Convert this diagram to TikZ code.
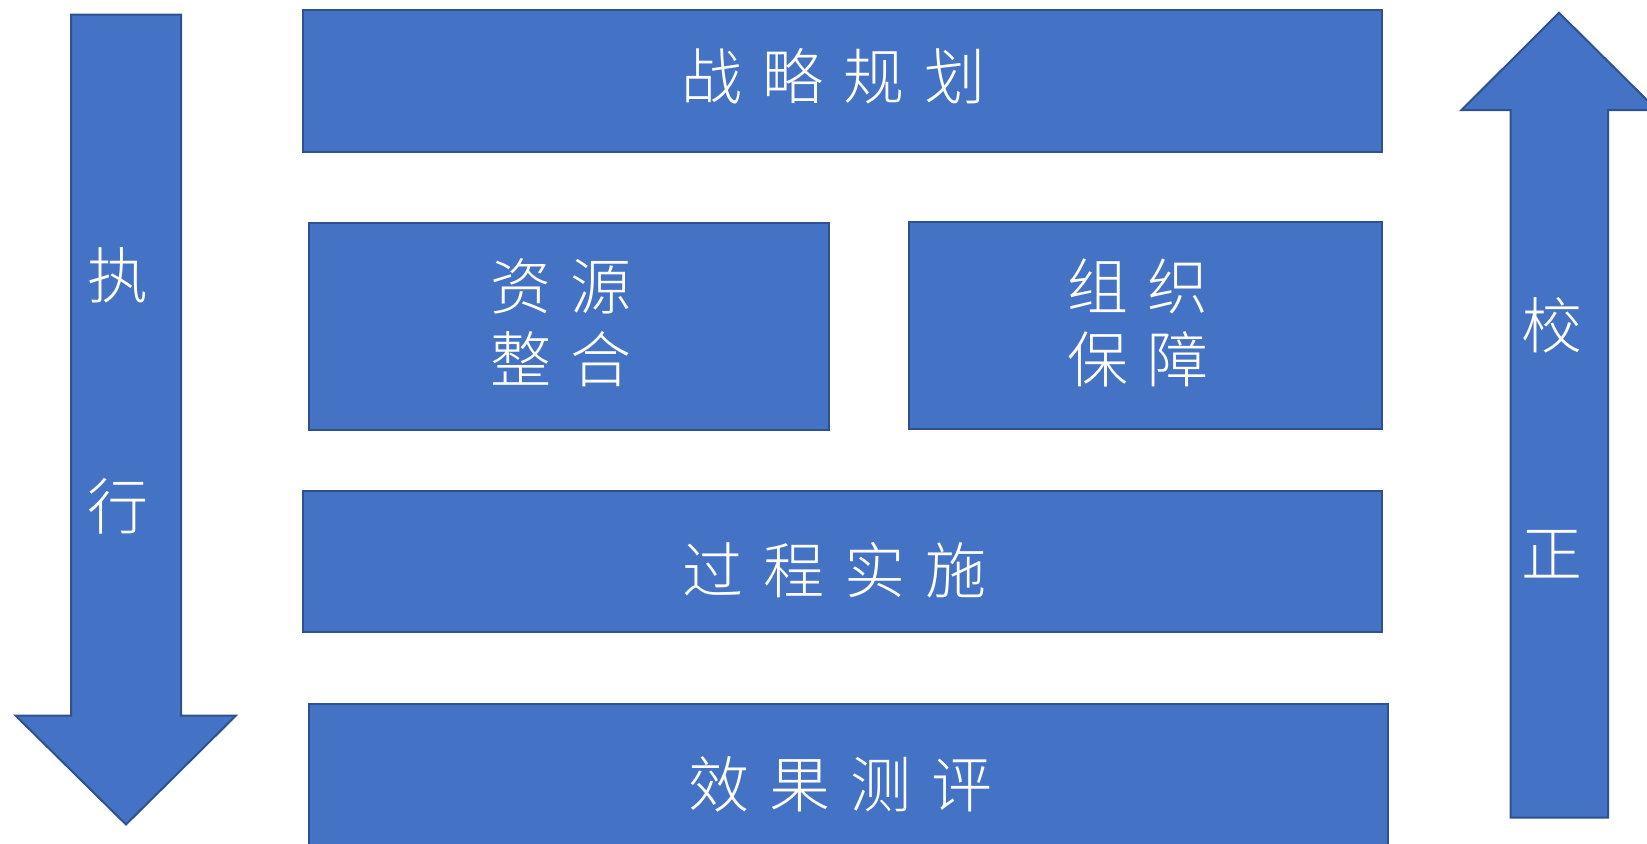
\documentclass[tikz,border=0pt]{standalone}
\usepackage{fontspec}
\newfontfamily\cjk{Noto Sans CJK SC Light}
\definecolor{boxfill}{HTML}{4472C4}
\definecolor{boxline}{HTML}{2F528F}
\begin{document}
\begin{tikzpicture}[x=0.5pt,y=-0.5pt,
  shapebox/.style={fill=boxfill,draw=boxline,line width=1pt,line join=miter},
  lbl/.style={text=white,inner sep=0pt,align=center,font=\cjk\fontsize{30.5}{36.75}\selectfont}]
\useasboundingbox (0,0) rectangle (1647,843);
% left arrow (down)
\path[shapebox] (71,14.5) -- (181,14.5) -- (181,715.5) -- (236,715.5) -- (126,824.5) -- (15.5,715.5) -- (71,715.5) -- cycle;
% right arrow (up)
\path[shapebox] (1510.5,817.5) -- (1510.5,110) -- (1461.5,110) -- (1559,12.8) -- (1657,110) -- (1608,110) -- (1608,817.5) -- cycle;
% boxes
\node[shapebox,inner sep=0pt,anchor=north west,minimum width=539.5pt,minimum height=71pt] (plan) at (302,8.5) {};
\node[shapebox,inner sep=0pt,anchor=north west,minimum width=260pt,minimum height=103.5pt] (res) at (308,221.5) {};
\node[shapebox,inner sep=0pt,anchor=north west,minimum width=236.5pt,minimum height=103.5pt] (org) at (908,220.5) {};
\node[shapebox,inner sep=0pt,anchor=north west,minimum width=539.5pt,minimum height=70.5pt] (proc) at (302,489.5) {};
\node[shapebox,inner sep=0pt,anchor=north west,minimum width=539.5pt,minimum height=85pt] (eval) at (308,702.5) {};
% texts
\node[lbl] (tplan) at (833.5,76) {战\hspace{10pt}略\hspace{10pt}规\hspace{10pt}划};
\node[lbl] (tres) at (561,323) {资\hspace{10pt}源\\整\hspace{10pt}合};
\node[lbl] (torg) at (1138,323) {组\hspace{10pt}织\\保\hspace{10pt}障};
\node[lbl] (tproc) at (834.5,570) {过\hspace{10pt}程\hspace{10pt}实\hspace{10pt}施};
\node[lbl] (teval) at (840.5,784) {效\hspace{10pt}果\hspace{10pt}测\hspace{10pt}评};
\node[lbl] (zhi) at (117.5,275) {执};
\node[lbl] (xing) at (117.5,506) {行};
\node[lbl] (jiao) at (1552,325) {校};
\node[lbl] (zheng) at (1552,554) {正};
\end{tikzpicture}
\end{document}
